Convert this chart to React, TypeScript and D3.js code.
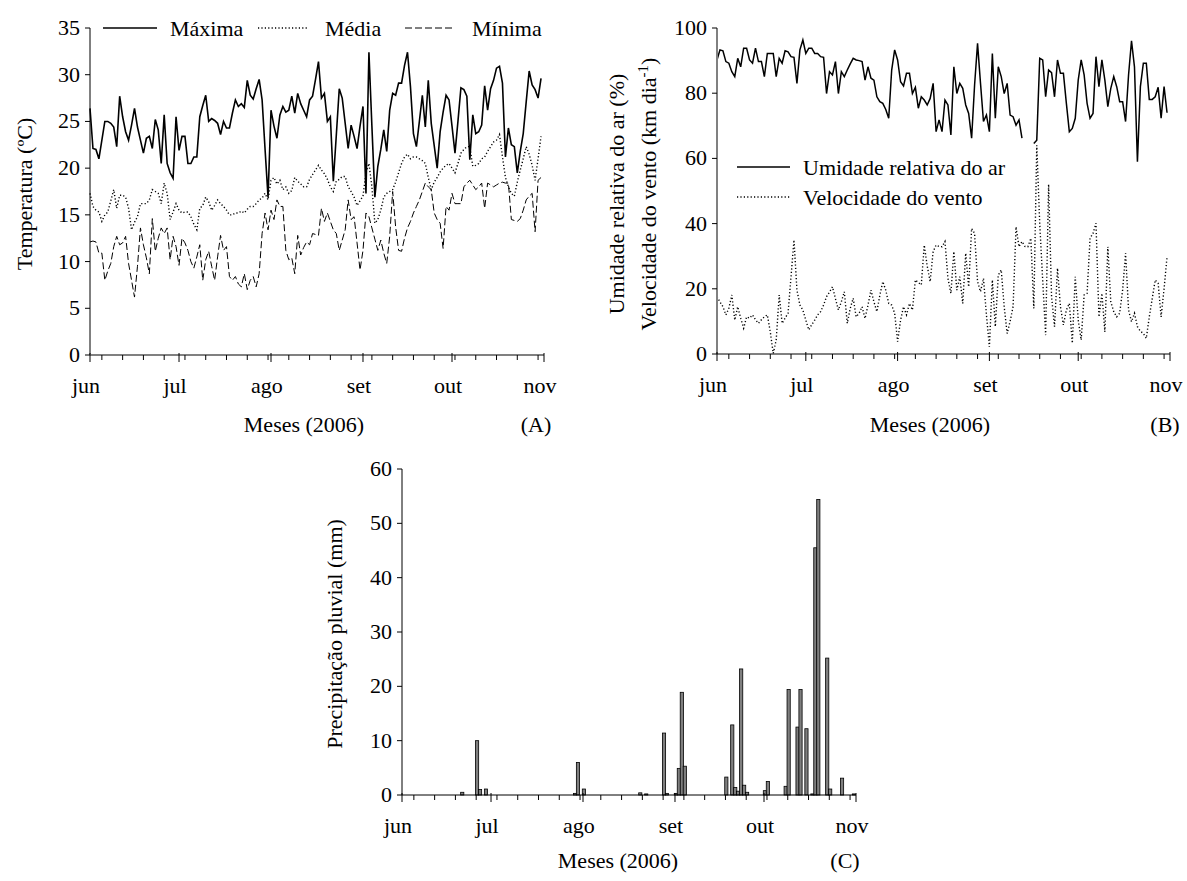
import React from 'react';
import * as d3 from 'd3';

// ---------- data ----------
const MONTH_LABELS = ['jun', 'jul', 'ago', 'set', 'out', 'nov'];
const MONTH_START_DAYS = [0, 30, 61, 92, 122, 153];
const MINOR_TICK_DAYS = d3.range(4, 153, 7);
const TEMP_TICKS = [0, 5, 10, 15, 20, 25, 30, 35];
const UR_TICKS = [0, 20, 40, 60, 80, 100];
const RAIN_TICKS = [0, 10, 20, 30, 40, 50, 60];

// daily temperature (ºC), day 0 = 1 jun 2006
const MAXIMA = [
  26.4, 22.1, 22.0, 21.0, 23.0, 25.0, 25.0, 24.8, 24.4, 22.3,
  27.7, 25.5, 23.9, 23.0, 24.6, 26.4, 24.4, 23.0, 21.6, 23.2,
  23.4, 22.1, 25.2, 24.1, 20.5, 25.7, 20.5, 19.5, 18.9, 25.5,
  21.9, 23.4, 23.4, 20.5, 20.5, 21.2, 21.2, 25.5, 26.7, 27.8,
  25.0, 25.3, 25.1, 24.8, 23.6, 25.0, 24.3, 24.3, 25.9, 27.3,
  26.6, 26.9, 26.5, 29.4, 27.8, 27.4, 28.5, 29.5, 27.3, 22.0,
  16.9, 26.2, 24.5, 23.2, 25.7, 26.6, 26.0, 26.2, 27.7, 25.9,
  28.0, 26.9, 26.2, 25.5, 27.3, 27.7, 29.5, 31.4, 27.5, 28.0,
  25.0, 25.5, 18.6, 23.5, 28.5, 27.5, 24.8, 22.1, 24.6, 23.4,
  22.1, 24.5, 26.6, 17.3, 32.4, 24.5, 16.9, 20.2, 22.0, 24.1,
  21.8, 26.2, 28.0, 27.8, 29.1, 29.1, 31.0, 32.4, 28.7, 23.7,
  22.3, 25.0, 27.8, 24.4, 29.4, 24.8, 22.4, 20.0, 23.9, 26.0,
  27.8, 27.3, 24.5, 21.6, 25.0, 28.6, 28.4, 27.7, 20.9, 25.7,
  23.7, 23.9, 24.6, 28.8, 26.2, 28.5, 29.4, 30.7, 30.9, 29.1,
  21.2, 24.3, 22.5, 22.3, 19.5, 21.8, 23.7, 27.1, 30.4, 28.9,
  28.4, 27.5, 29.6,
];
const MEDIA = [
  17.3, 15.9, 15.5, 15.3, 14.3, 15.0, 15.3, 16.5, 17.7, 15.7,
  17.1, 17.1, 16.9, 15.7, 13.4, 14.2, 14.8, 16.2, 16.2, 16.2,
  16.6, 17.7, 17.5, 17.3, 16.2, 18.4, 17.3, 14.5, 15.3, 16.2,
  15.5, 15.2, 15.3, 15.3, 14.8, 14.0, 13.4, 15.7, 16.0, 16.9,
  16.4, 15.5, 16.0, 16.6, 16.2, 15.9, 15.5, 15.0, 15.0, 15.2,
  15.2, 15.4, 15.2, 15.6, 15.9, 15.9, 16.2, 16.6, 16.8, 17.3,
  16.6, 18.7, 19.0, 18.3, 18.7, 17.7, 18.0, 17.3, 17.6, 19.0,
  18.6, 18.3, 18.0, 18.0, 18.8, 19.3, 19.8, 20.3, 19.8, 19.4,
  18.8, 18.0, 17.5, 18.6, 18.8, 19.1, 19.1, 18.0, 17.5, 16.9,
  16.0, 16.5, 17.0, 19.5, 20.5, 18.0, 14.1, 14.5, 15.5, 16.9,
  17.3, 17.5, 17.7, 18.5, 19.5, 20.5, 21.2, 21.5, 21.0, 21.2,
  21.2, 21.0, 20.8, 20.5, 19.0, 17.7, 18.5, 19.0, 19.6, 20.0,
  20.3, 20.5, 20.0, 19.5, 20.5, 21.6, 22.0, 22.3, 22.3, 20.2,
  20.3, 20.5, 21.0, 21.2, 21.8, 22.3, 22.8, 23.0, 23.6, 21.2,
  19.0, 18.0, 17.3, 17.0, 18.5, 19.8, 21.0, 22.3, 21.5, 20.3,
  18.7, 21.0, 23.4,
];
const MINIMA = [
  12.1, 12.2, 12.1, 10.9, 10.9, 8.0, 9.0, 9.8, 11.6, 12.7,
  11.8, 12.0, 12.7, 9.8, 8.0, 6.2, 9.5, 13.6, 11.8, 10.4,
  8.7, 14.6, 11.1, 12.5, 13.6, 13.0, 13.6, 10.2, 12.7, 11.6,
  9.6, 12.5, 12.0, 11.2, 10.0, 9.3, 10.5, 11.8, 8.0, 10.2,
  11.1, 9.5, 8.0, 10.5, 12.8, 11.2, 11.6, 8.4, 8.0, 8.4,
  7.6, 7.3, 8.7, 7.0, 8.0, 8.4, 7.3, 8.7, 13.0, 15.2,
  13.4, 15.5, 14.5, 16.6, 15.9, 15.9, 11.2, 10.2, 10.4, 8.7,
  12.8, 10.7, 11.5, 12.1, 11.8, 13.0, 12.9, 12.8, 15.7, 14.3,
  15.2, 14.3, 13.4, 13.0, 11.2, 12.3, 13.4, 16.6, 14.5, 14.8,
  12.0, 9.1, 11.2, 15.2, 14.8, 13.6, 12.4, 11.2, 12.3, 10.9,
  9.8, 12.7, 17.5, 13.7, 11.2, 11.1, 12.5, 13.6, 14.3, 15.2,
  15.9, 16.6, 17.5, 18.4, 18.0, 17.7, 15.2, 14.5, 14.1, 11.4,
  15.9, 15.5, 17.3, 16.2, 16.2, 16.2, 18.0, 18.4, 18.7, 18.2,
  17.7, 18.0, 18.4, 15.7, 18.4, 18.2, 18.0, 18.2, 18.4, 18.5,
  18.4, 18.4, 14.5, 14.4, 14.3, 14.6, 15.5, 16.6, 17.0, 17.3,
  13.2, 18.7, 19.0,
];

// daily relative humidity (%) and wind speed (km dia-1)
const UMIDADE: (number | null)[] = [
  90.2, 93.3, 93.0, 89.7, 89.2, 86.6, 85.1, 90.7, 88.1, 93.8,
  93.8, 90.2, 89.2, 93.8, 89.7, 89.7, 85.1, 92.2, 92.2, 92.2,
  85.1, 90.7, 89.2, 93.0, 92.7, 91.2, 91.0, 83.0, 93.3, 96.3,
  92.2, 93.8, 93.8, 92.2, 92.2, 91.2, 91.0, 79.9, 86.6, 85.6,
  89.7, 79.9, 86.6, 85.1, 87.1, 89.0, 90.7, 90.2, 90.0, 89.7,
  84.0, 88.1, 84.6, 84.0, 78.9, 77.4, 76.9, 75.0, 72.3, 87.1,
  93.3, 90.2, 83.5, 82.2, 86.1, 86.1, 79.9, 81.8, 75.4, 78.9,
  77.9, 76.4, 78.4, 83.0, 68.2, 71.8, 68.2, 77.9, 76.4, 67.2,
  88.1, 79.9, 83.0, 81.5, 76.4, 73.8, 66.2, 82.5, 95.3, 83.0,
  71.3, 73.3, 68.2, 92.2, 72.3, 88.1, 85.1, 79.9, 83.0, 73.3,
  72.8, 70.2, 71.8, 66.2, null, null, null, 64.6, 65.6, 90.7,
  90.2, 78.9, 87.1, 86.3, 78.9, 90.2, 86.1, 86.1, 76.9, 68.2,
  69.2, 72.3, 84.0, 90.2, 85.6, 76.9, 72.3, 73.8, 91.2, 82.0,
  90.2, 84.0, 75.9, 81.5, 85.1, 82.0, 77.4, 77.4, 71.3, 85.6,
  96.1, 88.1, 59.0, 82.0, 89.2, 89.2, 78.1, 78.1, 78.9, 81.8,
  72.3, 82.0, 74.0,
];
const VENTO = [
  17.6, 16.0, 14.5, 12.0, 14.0, 18.1, 10.4, 14.5, 11.0, 7.9,
  11.4, 11.0, 12.0, 10.5, 9.4, 10.5, 11.4, 12.0, 6.8, 0.2,
  4.3, 18.1, 9.4, 11.0, 12.5, 23.7, 35.0, 19.6, 15.0, 13.5,
  10.4, 7.4, 9.0, 10.4, 12.0, 13.0, 15.0, 17.6, 19.0, 20.6,
  17.0, 13.5, 16.0, 19.1, 9.4, 14.0, 17.1, 11.4, 12.5, 14.5,
  10.9, 15.0, 19.6, 16.0, 13.0, 18.0, 22.2, 19.6, 15.5, 15.0,
  12.5, 3.8, 10.4, 14.5, 12.0, 15.5, 13.5, 22.7, 21.9, 21.2,
  33.4, 27.0, 22.2, 31.4, 33.4, 33.0, 32.9, 34.5, 23.2, 18.6,
  31.4, 19.6, 23.7, 15.5, 30.9, 20.6, 38.5, 37.0, 22.2, 19.1,
  23.2, 12.0, 2.2, 22.7, 8.4, 24.2, 25.8, 14.5, 6.3, 10.0,
  14.5, 39.0, 32.9, 34.5, 33.0, 32.9, 35.5, 14.0, 64.0, 40.0,
  22.7, 5.8, 52.0, 17.6, 8.4, 26.3, 14.5, 8.9, 13.5, 15.5,
  3.3, 23.7, 10.4, 4.3, 18.1, 18.6, 35.5, 37.0, 40.1, 11.4,
  18.6, 6.8, 32.9, 16.0, 13.0, 11.4, 12.5, 19.6, 30.9, 13.5,
  9.9, 12.5, 8.4, 7.0, 6.3, 4.8, 11.4, 17.0, 22.7, 21.7,
  11.4, 20.0, 29.8,
];

// rainfall (mm): day index and amount
const CHUVA_DIAS = [20, 25, 26, 28, 58, 59, 61, 80, 82, 88, 89, 92, 93, 94, 95,
  109, 111, 112, 113, 114, 115, 116, 122, 123, 129, 130, 133, 134, 136, 138, 139,
  140, 143, 144, 148, 152];
const CHUVA_MM = [0.5, 10.0, 1.0, 1.1, 0.3, 6.0, 1.1, 0.4, 0.2, 11.4, 0.3, 0.3, 4.9,
  18.9, 5.3, 3.3, 12.9, 1.4, 0.7, 23.2, 1.8, 0.5, 0.8, 2.5, 1.6, 19.4, 12.5, 19.4,
  12.2, 0.2, 45.5, 54.4, 25.2, 1.1, 3.1, 0.2];

// ---------- helpers ----------
const FONT = "'Liberation Serif', 'Times New Roman', Times, serif";
const FS = 22;
const N_DAYS = 153;

function XAxisDays({ x, y, lineColor, lineWidth }: { x: d3.ScaleLinear<number, number>; y: number; lineColor: string; lineWidth: number }) {
  const [x0, x1] = x.range();
  return (
    <g>
      <line x1={x0} x2={x1} y1={y} y2={y} stroke={lineColor} strokeWidth={lineWidth} />
      {MINOR_TICK_DAYS.map((d) => (
        <line key={'m' + d} x1={x(d)} x2={x(d)} y1={y} y2={y + 5} stroke="#000" strokeWidth={1} />
      ))}
      {MONTH_START_DAYS.map((d) => (
        <line key={'M' + d} x1={x(d)} x2={x(d)} y1={y - 2} y2={y + 7} stroke="#000" strokeWidth={1} />
      ))}
      {MONTH_LABELS.map((m, i) => (
        <text key={m} x={x(MONTH_START_DAYS[i]) - 4} y={y + 38} textAnchor="middle" fontFamily={FONT} fontSize={FS} fill="#000">
          {m}
        </text>
      ))}
    </g>
  );
}

function YAxis({ yScale, ticks, x, lineColor, lineWidth }: { yScale: d3.ScaleLinear<number, number>; ticks: number[]; x: number; lineColor: string; lineWidth: number }) {
  const [ya, yb] = yScale.range();
  return (
    <g>
      <line x1={x} x2={x} y1={ya} y2={yb} stroke={lineColor} strokeWidth={lineWidth} />
      {ticks.map((t) => (
        <g key={t}>
          <line x1={x - 5} x2={x} y1={yScale(t)} y2={yScale(t)} stroke="#000" strokeWidth={1} />
          <text x={x - 10} y={yScale(t) + 7} textAnchor="end" fontFamily={FONT} fontSize={FS} fill="#000">
            {t}
          </text>
        </g>
      ))}
    </g>
  );
}

const DOTTED = '1.2 2.2';
const DASHED = '7 3';

function PanelA() {
  const x = d3.scaleLinear().domain([0, N_DAYS]).range([90, 544]);
  const y = d3.scaleLinear().domain([0, 35]).range([355, 28]);
  const line = d3.line<number>().x((_, i) => x(i)).y((v) => y(v));
  return (
    <g>
      <path d={line(MEDIA) || ''} fill="none" stroke="#000" strokeWidth={1.4} strokeDasharray={DOTTED} />
      <path d={line(MINIMA) || ''} fill="none" stroke="#000" strokeWidth={1} strokeDasharray={DASHED} />
      <path d={line(MAXIMA) || ''} fill="none" stroke="#000" strokeWidth={1.6} />
      <YAxis yScale={y} ticks={TEMP_TICKS} x={90} lineColor="#000" lineWidth={1} />
      <XAxisDays x={x} y={355} lineColor="#808080" lineWidth={2} />
      {/* legend */}
      <line x1={103} x2={157} y1={28} y2={28} stroke="#000" strokeWidth={1.6} />
      <text x={170} y={36} fontFamily={FONT} fontSize={FS}>Máxima</text>
      <line x1={258} x2={308} y1={28} y2={28} stroke="#000" strokeWidth={1.4} strokeDasharray={DOTTED} />
      <text x={325} y={36} fontFamily={FONT} fontSize={FS}>Média</text>
      <line x1={405} x2={454} y1={28} y2={28} stroke="#000" strokeWidth={1} strokeDasharray={DASHED} />
      <text x={472} y={36} fontFamily={FONT} fontSize={FS}>Mínima</text>
      <text transform="translate(32,194) rotate(-90)" textAnchor="middle" fontFamily={FONT} fontSize={FS}>Temperatura (ºC)</text>
      <text x={304} y={432} textAnchor="middle" fontFamily={FONT} fontSize={FS}>Meses (2006)</text>
      <text x={536} y={432} textAnchor="middle" fontFamily={FONT} fontSize={FS}>(A)</text>
    </g>
  );
}

function PanelB() {
  const x = d3.scaleLinear().domain([0, N_DAYS]).range([717, 1170]);
  const y = d3.scaleLinear().domain([0, 100]).range([354, 28]);
  const lineU = d3.line<number | null>().defined((v) => v !== null).x((_, i) => x(i)).y((v) => y(v as number));
  const lineV = d3.line<number>().x((_, i) => x(i)).y((v) => y(v));
  return (
    <g>
      <path d={lineV(VENTO) || ''} fill="none" stroke="#000" strokeWidth={1.4} strokeDasharray={DOTTED} />
      <path d={lineU(UMIDADE) || ''} fill="none" stroke="#000" strokeWidth={1.5} />
      <YAxis yScale={y} ticks={UR_TICKS} x={717} lineColor="#808080" lineWidth={2} />
      <XAxisDays x={x} y={354} lineColor="#000" lineWidth={1} />
      <line x1={737} x2={790} y1={167} y2={167} stroke="#000" strokeWidth={1.5} />
      <text x={803} y={175} fontFamily={FONT} fontSize={FS}>Umidade relativa do ar</text>
      <line x1={737} x2={790} y1={197} y2={197} stroke="#000" strokeWidth={1.4} strokeDasharray={DOTTED} />
      <text x={803} y={205} fontFamily={FONT} fontSize={FS}>Velocidade do vento</text>
      <text transform="translate(624,194) rotate(-90)" textAnchor="middle" fontFamily={FONT} fontSize={FS}>Umidade relativa do ar (%)</text>
      <text transform="translate(656,194) rotate(-90)" textAnchor="middle" fontFamily={FONT} fontSize={FS}>
        Velocidade do vento (km dia<tspan dy={-8} fontSize={15}>-1</tspan><tspan dy={8}>)</tspan>
      </text>
      <text x={930} y={432} textAnchor="middle" fontFamily={FONT} fontSize={FS}>Meses (2006)</text>
      <text x={1165} y={432} textAnchor="middle" fontFamily={FONT} fontSize={FS}>(B)</text>
    </g>
  );
}

function PanelC() {
  const x = d3.scaleLinear().domain([0, N_DAYS]).range([402, 856]);
  const y = d3.scaleLinear().domain([0, 60]).range([795, 469]);
  const bw = 3.2;
  return (
    <g>
      {CHUVA_DIAS.map((d, i) => (
        <rect key={d} x={x(d + 0.3) - bw / 2} y={y(CHUVA_MM[i])} width={bw} height={y(0) - y(CHUVA_MM[i])} fill="#7f7f7f" stroke="#000" strokeWidth={0.8} />
      ))}
      <YAxis yScale={y} ticks={RAIN_TICKS} x={402} lineColor="#000" lineWidth={1} />
      <XAxisDays x={x} y={795} lineColor="#000" lineWidth={1} />
      <text transform="translate(342,634) rotate(-90)" textAnchor="middle" fontFamily={FONT} fontSize={FS}>Precipitação pluvial (mm)</text>
      <text x={618} y={868} textAnchor="middle" fontFamily={FONT} fontSize={FS}>Meses (2006)</text>
      <text x={845} y={868} textAnchor="middle" fontFamily={FONT} fontSize={FS}>(C)</text>
    </g>
  );
}

export default function App() {
  return (
    <svg width={1187} height={881} viewBox="0 0 1187 881" style={{ position: 'absolute', left: 0, top: 0, background: '#fff' }}>
      <rect x={0} y={0} width={1187} height={881} fill="#fff" />
      <PanelA />
      <PanelB />
      <PanelC />
    </svg>
  );
}
